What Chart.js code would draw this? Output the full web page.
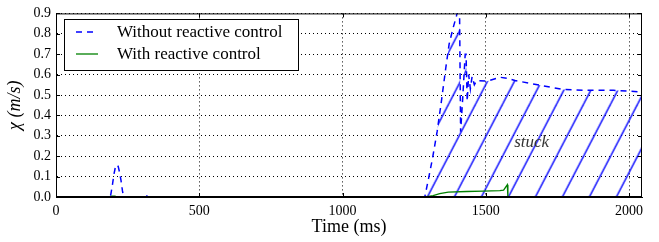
<!DOCTYPE html>
<html>
<head>
<meta charset="utf-8">
<script src="https://cdn.jsdelivr.net/npm/chart.js@4.4.1/dist/chart.umd.min.js"></script>
<style>
  html, body { margin: 0; padding: 0; background: #fff; }
  #wrap { width: 659px; height: 242px; }
</style>
</head>
<body>
<div id="wrap"><canvas id="chiChart"></canvas></div>
<script>
// ---- values ----
const timeWithout = [0, 185, 191, 197, 202, 207, 212, 217, 222, 227, 232, 236, 310, 316, 322,
  1287, 1300, 1314, 1330, 1345, 1360, 1372, 1386, 1398, 1404, 1408, 1412, 1420, 1428, 1431,
  1435, 1440, 1446, 1452, 1460, 1468, 1505, 1549, 1575, 1602, 1689, 1770, 1857, 1945, 2045];
const chiWithout = [0, 0, 0.01, 0.06, 0.11, 0.145, 0.158, 0.15, 0.12, 0.08, 0.03, 0, 0, 0.005, 0,
  0, 0.09, 0.19, 0.32, 0.47, 0.63, 0.75, 0.83, 0.89, 0.95, 0.96, 0.32, 0.5, 0.70, 0.70,
  0.47, 0.60, 0.53, 0.59, 0.55, 0.57, 0.568, 0.587, 0.582, 0.571, 0.548, 0.527, 0.523, 0.523, 0.515];

const timeWith = [0, 188, 194, 206, 212, 1287, 1300, 1316, 1339, 1369, 1433, 1491, 1549, 1562, 1575, 1577, 2045];
const chiWith  = [0, 0, 0.004, 0.004, 0, 0, 0.003, 0.007, 0.016, 0.024, 0.027, 0.029, 0.031, 0.034, 0.06, 0, 0];

const stuckFrom = 1287;          // hatched "stuck" region starts here
const stuckLabel = { x: 1660, y: 0.268 };
const xTicks = [0, 500, 1000, 1500, 2000];
const yTicks = [0.0, 0.1, 0.2, 0.3, 0.4, 0.5, 0.6, 0.7, 0.8, 0.9];

const SERIF = "'Liberation Serif', 'DejaVu Serif', serif";

const toPoints = (xs, ys) => xs.map((x, i) => ({ x: x, y: ys[i] }));
const hatchPoints = toPoints(timeWithout, chiWithout).filter(p => p.x >= stuckFrom);

// diagonal hatch, like matplotlib's '/'
function makeHatch() {
    const w = 27, h = 52;
    const c = document.createElement('canvas');
    c.width = w; c.height = h;
    const g = c.getContext('2d');
    g.strokeStyle = '#0000ff';
    g.lineWidth = 1.4;
    [[0, 0], [-w, 0], [w, 0], [0, -h], [0, h]].forEach(([dx, dy]) => {
        g.beginPath();
        g.moveTo(dx, h + dy);
        g.lineTo(w + dx, dy);
        g.stroke();
    });
    const pat = g.createPattern(c, 'repeat');
    if (pat.setTransform) pat.setTransform(new DOMMatrix().translate(16.6, 0));
    return pat;
}

// frame on all four sides + inward ticks, then the boxed legend and label
const framePlugin = {
    id: 'frame',
    afterDraw(chart) {
        const { ctx, chartArea: a, scales } = chart;
        ctx.save();
        ctx.strokeStyle = '#000';
        ctx.lineWidth = 1;
        ctx.strokeRect(a.left + 0.5, a.top + 0.5, a.right - a.left - 1, a.bottom - a.top - 1);

        ctx.beginPath();
        xTicks.forEach(v => {
            const px = Math.round(scales.x.getPixelForValue(v)) + 0.5;
            ctx.moveTo(px, a.bottom); ctx.lineTo(px, a.bottom - 4);
            ctx.moveTo(px, a.top); ctx.lineTo(px, a.top + 4);
        });
        yTicks.forEach(v => {
            const py = Math.round(scales.y.getPixelForValue(v)) + 0.5;
            ctx.moveTo(a.left, py); ctx.lineTo(a.left + 4, py);
            ctx.moveTo(a.right, py); ctx.lineTo(a.right - 4, py);
        });
        ctx.stroke();

        // "stuck" label
        ctx.fillStyle = '#333';
        ctx.font = 'italic 17px ' + SERIF;
        ctx.textAlign = 'center';
        ctx.textBaseline = 'middle';
        ctx.fillText('stuck', scales.x.getPixelForValue(stuckLabel.x), scales.y.getPixelForValue(stuckLabel.y));

        // legend box
        const lx = 64, ly = 19, lw = 234, lh = 51;
        ctx.fillStyle = '#fff';
        ctx.fillRect(lx, ly, lw, lh);
        ctx.strokeStyle = '#000';
        ctx.strokeRect(lx + 0.5, ly + 0.5, lw, lh);
        const rows = chart.data.datasets.filter(d => d.label);
        rows.forEach((d, i) => {
            const y = ly + 13 + i * 22;
            ctx.strokeStyle = d.borderColor;
            ctx.lineWidth = d.borderWidth;
            ctx.setLineDash(d.borderDash || []);
            ctx.beginPath();
            ctx.moveTo(lx + 12, y); ctx.lineTo(lx + 34, y);
            ctx.stroke();
            ctx.setLineDash([]);
            ctx.fillStyle = '#000';
            ctx.font = '17px ' + SERIF;
            ctx.textAlign = 'left';
            ctx.textBaseline = 'middle';
            ctx.fillText(d.label, lx + 53, y + 1);
        });
        ctx.restore();
    }
};

new Chart(document.getElementById('chiChart'), {
    type: 'line',
    data: {
        datasets: [
            {
                label: 'Without reactive control',
                data: toPoints(timeWithout, chiWithout),
                borderColor: '#0000ff',
                borderWidth: 1.5,
                borderDash: [6, 5],
                pointRadius: 0,
                fill: false,
                tension: 0,
                order: 2
            },
            {
                label: 'With reactive control',
                data: toPoints(timeWith, chiWith),
                borderColor: '#008000',
                borderWidth: 1.3,
                pointRadius: 0,
                fill: false,
                tension: 0,
                order: 1
            },
            {
                label: '',
                data: hatchPoints,
                borderWidth: 0,
                borderColor: 'rgba(0,0,0,0)',
                backgroundColor: makeHatch(),
                pointRadius: 0,
                fill: 'origin',
                tension: 0,
                order: 3
            }
        ]
    },
    options: {
        responsive: true,
        maintainAspectRatio: false,
        animation: false,
        layout: { padding: { left: 0, right: 17, top: 11, bottom: 0 } },
        plugins: { legend: { display: false }, tooltip: { enabled: false } },
        scales: {
            x: {
                type: 'linear',
                min: 0,
                max: 2045,
                afterBuildTicks: s => { s.ticks = xTicks.map(v => ({ value: v })); },
                afterFit: s => { s.height = 45; },
                grid: { color: '#000', lineWidth: 1, drawTicks: false },
                border: { display: true, color: '#000', width: 1, dash: [1, 3] },
                ticks: {
                    color: '#000',
                    padding: 6,
                    maxRotation: 0,
                    font: { family: SERIF, size: 14 },
                    callback: v => String(v)
                },
                title: {
                    display: true,
                    text: 'Time (ms)',
                    color: '#000',
                    padding: { top: 0, bottom: 4 },
                    font: { family: SERIF, size: 18 }
                }
            },
            y: {
                min: 0,
                max: 0.9,
                afterBuildTicks: s => { s.ticks = yTicks.map(v => ({ value: v })); },
                afterFit: s => { s.width = 56; },
                grid: { color: '#000', lineWidth: 1, drawTicks: false },
                border: { display: true, color: '#000', width: 1, dash: [1, 3] },
                ticks: {
                    color: '#000',
                    padding: 5,
                    font: { family: SERIF, size: 14 },
                    callback: v => v.toFixed(1)
                },
                title: {
                    display: true,
                    text: 'χ (m/s)',
                    color: '#000',
                    padding: { top: 4, bottom: 0 },
                    font: { family: SERIF, size: 18, style: 'italic' }
                }
            }
        }
    },
    plugins: [framePlugin]
});
</script>
</body>
</html>
